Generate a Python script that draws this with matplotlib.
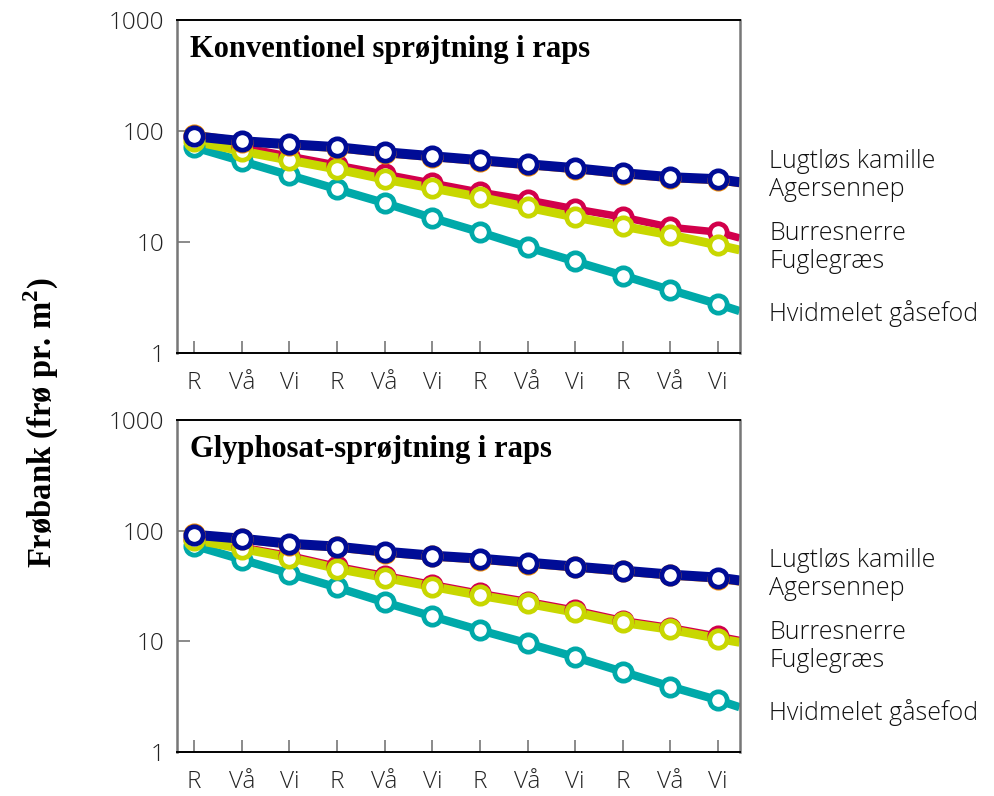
import numpy as np
import matplotlib
matplotlib.use("Agg")
import matplotlib.pyplot as plt

plt.rcParams['mathtext.fontset'] = 'custom'
plt.rcParams['mathtext.bf'] = 'Liberation Serif:bold'
plt.rcParams['mathtext.rm'] = 'Liberation Serif:bold'

# x categories: R = raps, Vå = vårsæd, Vi = vintersæd, four rotations
seasons = ['R', 'Vå', 'Vi'] * 4

species = ['Hvidmelet gåsefod', 'Burresnerre', 'Fuglegræs', 'Agersennep', 'Lugtløs kamille']
colors = ['#00a9a9', '#d2004b', '#c8d700', '#f08a00', '#000c96']
widths = [6.0, 5.4, 6.4, 6.0, 7.2]

# seed bank (seeds per m2) per year, last value is where the line meets the right axis
konv = {
    'Hvidmelet gåsefod': [71.8, 53.7, 40.1, 30.0, 22.5, 16.5, 12.3, 9.0, 6.7, 5.0, 3.7, 2.76, 2.39],
    'Burresnerre':       [88.3, 71.8, 59.5, 49.4, 41.0, 34.0, 28.2, 24.0, 19.9, 16.8, 13.6, 12.3, 10.9],
    'Fuglegræs':         [81.3, 66.1, 54.8, 45.5, 36.9, 30.7, 25.4, 20.6, 16.8, 13.9, 11.6, 9.4, 8.5],
    'Agersennep':        [93.0, 80.5, 75.0, 70.5, 63.5, 58.5, 53.8, 49.5, 45.5, 41.2, 37.8, 36.2, 34.0],
    'Lugtløs kamille':   [90.2, 81.3, 76.3, 71.8, 64.7, 59.5, 54.8, 50.4, 46.4, 41.9, 38.5, 36.9, 34.7],
}
glyph = {
    'Hvidmelet gåsefod': [73.3, 54.8, 41.0, 30.7, 22.5, 16.8, 12.6, 9.6, 7.2, 5.3, 3.9, 2.94, 2.54],
    'Burresnerre':       [85.0, 71.0, 59.5, 47.5, 39.3, 32.6, 27.1, 22.9, 19.1, 15.4, 13.3, 11.1, 10.2],
    'Fuglegræs':         [83.0, 68.8, 57.1, 45.5, 37.7, 31.3, 26.0, 22.0, 18.3, 14.8, 12.8, 10.6, 9.8],
    'Agersennep':        [92.5, 83.5, 75.0, 70.5, 63.5, 58.5, 54.8, 50.5, 46.5, 42.8, 39.4, 36.9, 34.7],
    'Lugtløs kamille':   [92.0, 84.7, 76.3, 71.8, 64.7, 59.5, 55.9, 51.5, 47.4, 43.6, 40.1, 37.7, 35.5],
}
titles = ['Konventionel sprøjtning i raps', 'Glyphosat-sprøjtning i raps']
labels = ['Lugtløs kamille', 'Agersennep', 'Burresnerre', 'Fuglegræs', 'Hvidmelet gåsefod']
label_y = [0.576, 0.492, 0.36, 0.276, 0.12]

sans = 'Open Sans'
xmin, xmax = -0.36, 11.45
x = np.append(np.arange(len(seasons)), xmax)

fig = plt.figure(figsize=(9.94, 7.96), dpi=100, facecolor='white')
ax1 = fig.add_axes([0.178, 0.5565, 0.566, 0.418])
ax2 = fig.add_axes([0.178, 0.0553, 0.566, 0.417])

for ax, data, title in zip([ax1, ax2], [konv, glyph], titles):
    for name, c, lw in zip(species, colors, widths):
        y = np.array(data[name])
        ax.plot(x, y, color=c, lw=lw, solid_capstyle='butt', zorder=2)
        ax.plot(x[:-1], y[:-1], 'o', ms=12.5, mfc='white', mec=c, mew=3.4, zorder=3)
    ax.set_yscale('log')
    ax.set_ylim(1, 1000)
    ax.set_xlim(xmin, xmax)
    ax.set_yticks([1, 10, 100, 1000])
    ax.set_yticklabels(['1', '10', '100', '1000'])
    ax.yaxis.set_minor_locator(plt.NullLocator())
    ax.set_xticks(np.arange(len(seasons)))
    ax.set_xticklabels(seasons)
    ax.tick_params(direction='in', length=9, width=1.2, color='#777777',
                   labelsize=17.5, pad=9)
    ax.tick_params(axis='x', pad=13)
    for lab in ax.get_xticklabels() + ax.get_yticklabels():
        lab.set_family(sans)
        lab.set_fontweight('light')
        lab.set_color('#222222')
    for side in ['top', 'bottom']:
        ax.spines[side].set_color('black')
        ax.spines[side].set_linewidth(1.4)
    for side in ['left', 'right']:
        ax.spines[side].set_color('#777777')
        ax.spines[side].set_linewidth(1.8)
    ax.text(0.023, 0.912, title, transform=ax.transAxes, ha='left', va='center',
            family='Liberation Serif', fontweight='bold', fontsize=22)
    for lab, yy in zip(labels, label_y):
        ax.text(1.053, yy, lab, transform=ax.transAxes, ha='left', va='center',
                family=sans, fontweight='light', fontsize=18, color='#111111')

fig.text(0.042, 0.469, r'Frøbank (frø pr. m$^{\mathbf{2}}$)', rotation=90,
         ha='center', va='center', family='Liberation Serif', fontweight='bold',
         fontsize=23.5)

fig.savefig('out.png', dpi=100)
